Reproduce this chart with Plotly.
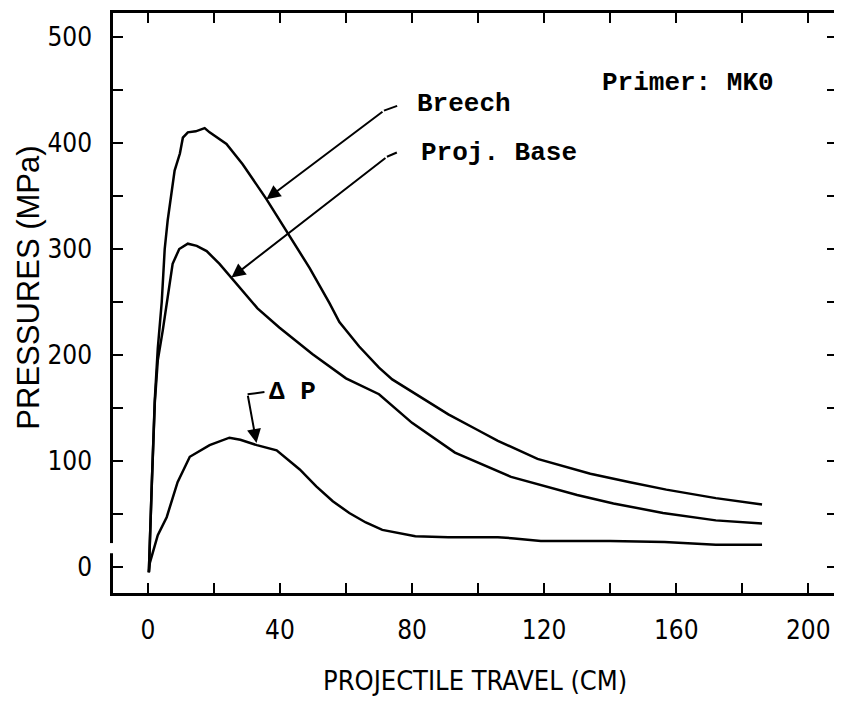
import plotly.graph_objects as go

# Projectile travel (cm) and pressures (MPa)
breech_x = [0.3, 0.6, 1.2, 2.1, 3.0, 4.2, 5.1, 6.0, 7.2, 8.1, 9.7, 10.6, 12.1, 14.5, 17.2,
            18.7, 23.8, 28.7, 35.9, 42.0, 49.0, 55.0, 58.0, 64.0, 70.0, 74.0, 85.0, 91.0,
            100.0, 106.0, 118.0, 134.0, 146.0, 157.0, 172.0, 186.0]
breech_y = [-5, 28, 79, 158, 206, 250, 300, 327, 352, 374, 390, 405, 410, 411, 414,
            410, 399, 380, 347, 317, 282, 249, 231, 208, 188, 177, 156, 144,
            129, 119, 102, 88, 80, 73, 65, 59]

base_x = [0.3, 0.6, 1.2, 2.1, 3.0, 4.5, 6.0, 7.5, 9.5, 12.1, 14.8, 17.8, 21.7, 25.3,
          29.9, 33.2, 39.8, 49.8, 60.0, 70.0, 80.0, 93.0, 110.0, 130.0, 141.0, 156.0,
          172.0, 186.0]
base_y = [-5, 28, 79, 155, 195, 223, 254, 286, 300, 305, 303, 298, 286, 273,
          256, 244, 226, 201, 178, 163, 136, 108, 85, 68, 60, 51,
          44, 41]

dp_x = [0.3, 0.6, 3.0, 5.7, 9.0, 12.7, 18.7, 24.7, 28.0, 33.0, 39.0, 46.0, 51.0, 56.0,
        61.0, 66.0, 71.0, 81.0, 91.0, 106.0, 111.0, 119.0, 140.0, 156.5, 172.0, 186.0]
dp_y = [-5, 4, 30, 47, 80, 104, 115, 122, 120, 115, 110, 92, 76, 62,
        51, 42, 35, 29, 28, 28, 27, 24.5, 24.5, 23.6, 21, 21]

x_ticks = [0, 40, 80, 120, 160, 200]
y_ticks = [0, 100, 200, 300, 400, 500]

narrow = "Liberation Sans Narrow, DejaVu Sans Condensed, Liberation Sans, sans-serif"
tick_font = dict(family=narrow, size=26, color="black")
note_font = dict(family="Liberation Mono, monospace", size=26, color="black")

fig = go.Figure()
for xs, ys, name in [(breech_x, breech_y, "Breech"),
                     (base_x, base_y, "Proj. Base"),
                     (dp_x, dp_y, "ΔP")]:
    fig.add_trace(go.Scatter(x=xs, y=ys, mode="lines", name=name,
                             line=dict(color="black", width=2.5)))

axis_common = dict(showline=True, linecolor="black", linewidth=2.5, mirror="ticks",
                   ticks="inside", ticklen=10, tickwidth=2, tickcolor="black",
                   showgrid=False, zeroline=False, tickfont=tick_font)

fig.update_xaxes(range=[-10.56, 208.7], tickvals=x_ticks, ticklabelstandoff=12,
                 minor=dict(dtick=20, tick0=0, ticks="inside", ticklen=10,
                            tickwidth=2, tickcolor="black"),
                 **axis_common)
fig.update_yaxes(range=[-24.5, 522.6], tickvals=y_ticks, ticklabelstandoff=13,
                 minor=dict(dtick=50, tick0=0, ticks="inside", ticklen=10,
                            tickwidth=2, tickcolor="black"),
                 **axis_common)

# leader arrows
arrows = [
    dict(x=35.9, y=347, ax=71.5, ay=430.5),
    dict(x=25.3, y=273, ax=72.4, ay=387),
    dict(x=32.9, y=117, ax=30.2, ay=163),
]
annos = []
for a in arrows:
    annos.append(dict(x=a["x"], y=a["y"], ax=a["ax"], ay=a["ay"], xref="x", yref="y",
                      axref="x", ayref="y", text="", showarrow=True, arrowhead=2,
                      arrowsize=1.4, arrowwidth=2, arrowcolor="black"))

labels = [
    ("Breech", 81, 437),
    ("Proj. Base", 82, 391),
    ("Primer: MK0", 137, 457),
    ("Δ P", 36.2, 165),
]
for txt, lx, ly in labels:
    annos.append(dict(x=lx, y=ly, xref="x", yref="y", text="<b>%s</b>" % txt,
                      showarrow=False, xanchor="left", yanchor="middle", font=note_font))

annos.append(dict(x=0.5, y=-0.15, xref="paper", yref="paper",
                  text="PROJECTILE TRAVEL (CM)", showarrow=False,
                  xanchor="center", yanchor="middle",
                  font=dict(family=narrow, size=27, color="black")))
annos.append(dict(x=-0.117, y=0.527, xref="paper", yref="paper",
                  text="PRESSURES (MPa)", showarrow=False, textangle=-90,
                  xanchor="center", yanchor="middle",
                  font=dict(family="Liberation Sans, sans-serif", size=31, color="black")))

shapes = [
    # hooks at the ends of the leaders
    dict(type="line", x0=71.5, y0=430.5, x1=75.5, y1=435, xref="x", yref="y",
         line=dict(color="black", width=2)),
    dict(type="line", x0=72.4, y0=387, x1=75.4, y1=391, xref="x", yref="y",
         line=dict(color="black", width=2)),
    dict(type="line", x0=30.2, y0=163, x1=35.3, y1=165, xref="x", yref="y",
         line=dict(color="black", width=2)),
    # small break in the left axis line
    dict(type="rect", x0=-0.006, x1=0.006, y0=13, y1=22.6, xref="paper", yref="y",
         fillcolor="white", line=dict(width=0), layer="above"),
]

# page body has an 8px margin, so the figure is a bit smaller than the window
fig.update_layout(width=834, height=694, margin=dict(l=105, r=2, t=4, b=109),
                  paper_bgcolor="white", plot_bgcolor="white", showlegend=False,
                  annotations=annos, shapes=shapes)

fig.write_html("out.html")
